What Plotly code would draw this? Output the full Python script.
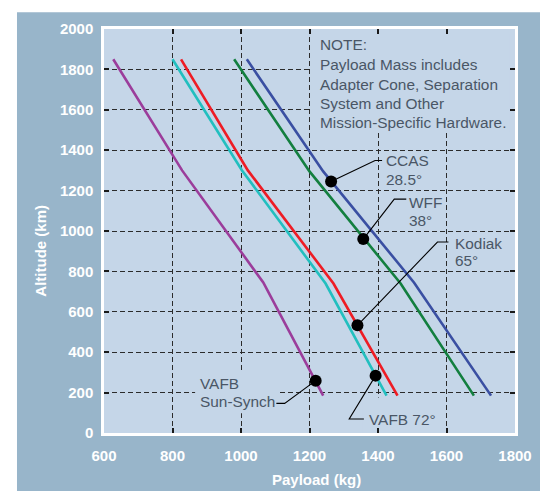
import plotly.graph_objects as go

# ---- data ----
purple_payload = [627, 828, 1065, 1240]
purple_alt = [1850, 1300, 745, 185]
cyan_payload = [800, 1003, 1247, 1425]
cyan_alt = [1850, 1300, 740, 185]
red_payload = [825, 1020, 1270, 1457]
red_alt = [1850, 1300, 740, 185]
green_payload = [980, 1200, 1466, 1680]
green_alt = [1850, 1295, 740, 185]
blue_payload = [1017, 1240, 1505, 1730]
blue_alt = [1850, 1295, 745, 185]

dot_labels = ["CCAS", "WFF", "Kodiak", "VAFB 72°", "VAFB Sun-Synch"]
dot_payload = [1263, 1357, 1340, 1393, 1218]
dot_alt = [1245, 960, 533, 284, 259]

x_ticks = [600, 800, 1000, 1200, 1400, 1600, 1800]
y_ticks = [0, 200, 400, 600, 800, 1000, 1200, 1400, 1600, 1800, 2000]

note_lines = ["NOTE:", "Payload Mass includes", "Adapter Cone, Separation",
              "System and Other", "Mission-Specific Hardware."]

# ---- styling ----
OUTER = "#98b5ca"
INNER = "#c5d6e8"
TXT = "#4a5666"
LABEL_FONT = dict(family="Liberation Sans, Arial", size=15.4, color=TXT)

fig = go.Figure()

series = [
    (purple_payload, purple_alt, "#9b3d9b"),
    (cyan_payload, cyan_alt, "#22bfbf"),
    (red_payload, red_alt, "#ee1c24"),
    (green_payload, green_alt, "#137f3f"),
    (blue_payload, blue_alt, "#3a4fa2"),
]
for xs, ys, c in series:
    fig.add_trace(go.Scatter(x=xs, y=ys, mode="lines", line=dict(color=c, width=2.6),
                             showlegend=False, hoverinfo="skip"))

fig.add_trace(go.Scatter(x=dot_payload, y=dot_alt, mode="markers", text=dot_labels,
                         marker=dict(color="black", size=12), showlegend=False))

shapes = []
# white strips around the outer panel
for x0, x1, y0, y1 in [(-0.3, 1.2, 1.0416, 1.2), (-0.3, -0.2117, -0.3, 1.2), (1.073, 1.2, -0.3, 1.2)]:
    shapes.append(dict(type="rect", xref="paper", yref="paper", x0=x0, x1=x1, y0=y0, y1=y1,
                       fillcolor="white", line=dict(width=0), layer="below"))
# boxes that mask grid lines behind the text blocks
for x0, x1, y0, y1 in [(1205, 1785, 1491, 1975), (866, 1107, 98, 298), (1356, 1569, 0, 176)]:
    shapes.append(dict(type="rect", xref="x", yref="y", x0=x0, x1=x1, y0=y0, y1=y1,
                       fillcolor=INNER, line=dict(width=0), layer="between"))

# leader lines (pixel offsets from each dot)
leader_offsets = [
    [(44, 21), (51, 21)],
    [(31, 40), (43, 40)],
    [(80, 83.3), (91, 83.3)],
    [(-26.4, -43.3), (-11.7, -43.3)],
    [(-31, -22.7), (-39.3, -22.7)],
]
for px, py, offs in zip(dot_payload, dot_alt, leader_offsets):
    path = "M0,0 " + " ".join(f"L{dx},{dy}" for dx, dy in offs)
    shapes.append(dict(type="path", xref="x", yref="y", xsizemode="pixel", ysizemode="pixel",
                       xanchor=px, yanchor=py, path=path, line=dict(color="black", width=1.1),
                       layer="above"))

annotations = []
note_y = [1922, 1824, 1726, 1632, 1539]
for t, y in zip(note_lines, note_y):
    annotations.append(dict(x=1226, y=y, text=t))
label_text = [
    ("CCAS", 1417.5, 1348), ("28.5°", 1417.5, 1253),
    ("WFF", 1485.5, 1139), ("38°", 1485.5, 1053),
    ("Kodiak", 1618, 936), ("65°", 1618, 853),
    ("VAFB 72°", 1367, 68.5),
    ("VAFB", 874.5, 243), ("Sun-Synch", 874.5, 156.5),
]
for t, x, y in label_text:
    annotations.append(dict(x=x, y=y, text=t))
for a in annotations:
    a.update(xref="x", yref="y", xanchor="left", yanchor="middle", showarrow=False, font=LABEL_FONT)

TITLE_FONT = dict(family="Liberation Sans", size=15, color="white", weight="bold")
annotations.append(dict(xref="paper", yref="paper", x=0.516, y=-0.115, text="Payload (kg)",
                        showarrow=False, font=TITLE_FONT, xanchor="center", yanchor="middle"))
annotations.append(dict(xref="paper", yref="paper", x=-0.155, y=0.452, text="Altitude (km)",
                        showarrow=False, font=TITLE_FONT, textangle=-90, xanchor="center", yanchor="middle"))

grid = dict(showgrid=True, gridcolor="#2b2b2b", gridwidth=1.2, griddash="5px,3px",
            zeroline=False, showline=True, linecolor="white", linewidth=2.5, mirror="ticks",
            ticks="inside", ticklen=5, tickwidth=2, tickcolor="#1a1a1a",
            tickfont=dict(family="Liberation Sans", size=15, color="white", weight="bold"))

fig.update_xaxes(range=[600, 1800], tickvals=x_ticks, ticklabelstandoff=7, **grid)
fig.update_yaxes(range=[0, 2000], tickvals=y_ticks, ticklabelstandoff=5, **grid)

fig.update_layout(
    width=540, height=483,
    margin=dict(l=96, r=33, t=16, b=58),
    paper_bgcolor=OUTER, plot_bgcolor=INNER,
    shapes=shapes, annotations=annotations,
    hovermode="closest",
)

fig.write_html("out.html")
